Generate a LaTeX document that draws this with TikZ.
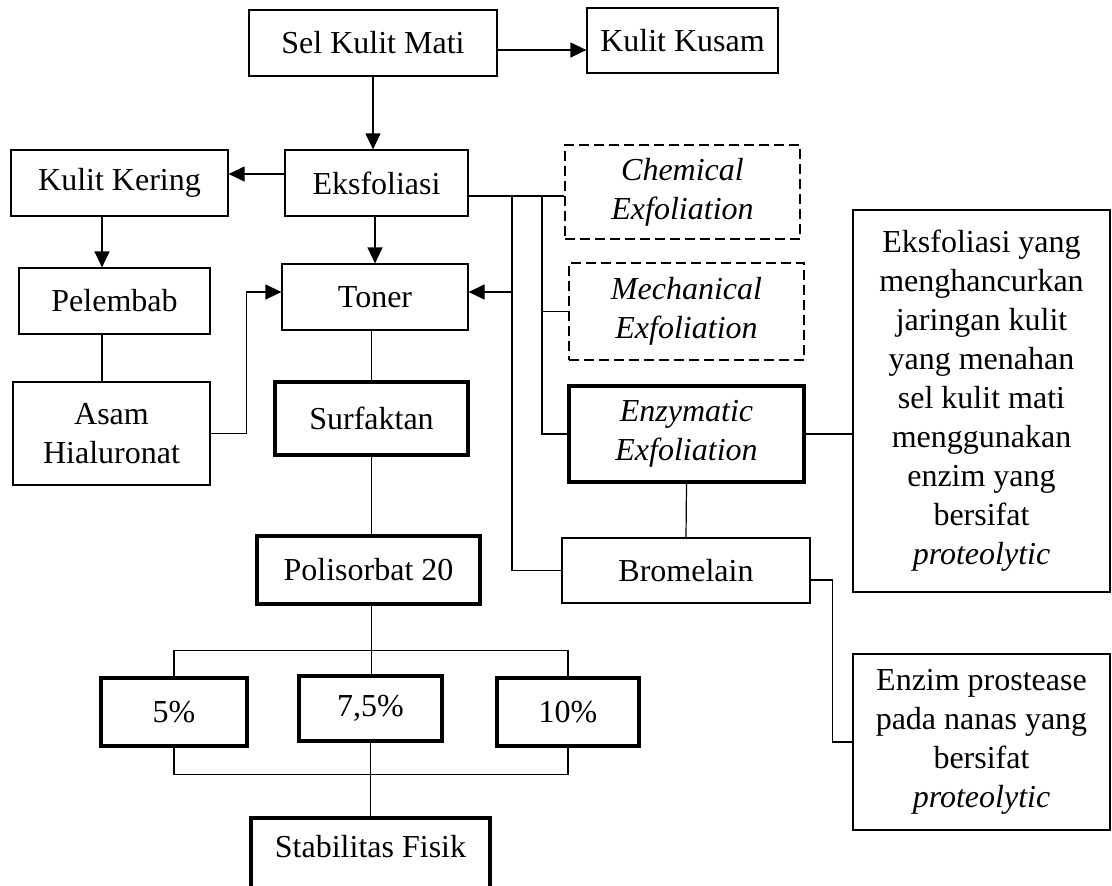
\documentclass[tikz,border=0pt]{standalone}
\usepackage{fontspec}
\setmainfont{Liberation Serif}
\usetikzlibrary{arrows.meta}

\begin{document}
\begin{tikzpicture}[x=0.5pt, y=-0.5pt, line width=0.6pt,
    >={Triangle[length=8pt,width=7.5pt]},
    font=\fontsize{16}{19.5}\selectfont,
    box/.style={draw, align=center, inner sep=0pt},
    boldbox/.style={box, line width=1.8pt},
    dashbox/.style={box, line width=1.1pt, dash pattern=on 5pt off 2.5pt}]
    \clip (0,0) rectangle (1112,885);

    \node[box, minimum width=124pt, minimum height=33pt] (sel) at (373,43) {Sel Kulit Mati};
    \node[box, minimum width=95.5pt, minimum height=32.5pt] (kusam) at (682.5,40.5) {Kulit Kusam};
    \node[box, minimum width=108.5pt, minimum height=33pt] (kering) at (119.5,183) {Kulit Kering};
    \node[box, minimum width=91.5pt, minimum height=33pt] (eksf) at (376.5,183) {Eksfoliasi};
    \node[dashbox, minimum width=117.5pt, minimum height=47pt] (chem) at (682.5,192) {\textit{Chemical}\\ \textit{Exfoliation}};
    \node[box, minimum width=95.5pt, minimum height=33pt] (pel) at (114.5,301) {Pelembab};
    \node[box, minimum width=93pt, minimum height=33pt] (toner) at (375,297) {Toner};
    \node[dashbox, minimum width=117.5pt, minimum height=48.5pt] (mech) at (686.5,311.5) {\textit{Mechanical}\\ \textit{Exfoliation}};
    \node[box, minimum width=98.5pt, minimum height=51.5pt] (asam) at (111.5,433.5) {Asam\\ Hialuronat};
    \node[boldbox, minimum width=96.5pt, minimum height=36.5pt] (surf) at (371.5,418.5) {Surfaktan};
    \node[boldbox, minimum width=117.5pt, minimum height=48pt] (enz) at (686.5,434) {\textit{Enzymatic}\\ \textit{Exfoliation}};
    \node[box, minimum width=128.5pt, minimum height=191pt] (ket) at (981.5,401) {Eksfoliasi yang\\ menghancurkan\\ jaringan kulit\\ yang menahan\\ sel kulit mati\\ menggunakan\\ enzim yang\\ bersifat\\ \textit{proteolytic}};
    \node[box, minimum width=124pt, minimum height=32.5pt] (brom) at (686,570.5) {Bromelain};
    \node[boldbox, minimum width=111.5pt, minimum height=34pt] (poli) at (368.5,570) {Polisorbat 20};
    \node[boldbox, minimum width=73pt, minimum height=34pt] (p5) at (174,712) {5\%};
    \node[boldbox, minimum width=71.5pt, minimum height=32.5pt] (p75) at (370.5,708.5) {7,5\%};
    \node[boldbox, minimum width=71pt, minimum height=34pt] (p10) at (568,712) {10\%};
    \node[box, minimum width=128.5pt, minimum height=88pt] (enzim) at (981.5,742) {Enzim prostease\\ pada nanas yang\\ bersifat\\ \textit{proteolytic}};
    \node[boldbox, anchor=north, minimum width=119.5pt, inner ysep=9pt, text height=11pt, text depth=40pt] (stab) at (370.5,816) {Stabilitas Fisik};

    \coordinate (j1) at (512,196);
    \coordinate (j2) at (542,196);

    \draw[->] ([yshift=-3.5pt]sel.east) -- ([yshift=-3.5pt]sel.east -| kusam.west);
    \draw[->] (sel.south) -- (sel.south |- eksf.north);
    \draw[->] ([yshift=4.5pt]eksf.west) -- ([yshift=4.5pt]eksf.west -| kering.east);
    \draw[->] (eksf.south -| toner.north) -- (toner.north);
    \draw[->] ([xshift=-6.25pt]pel.north |- kering.south) -- ([xshift=-6.25pt]pel.north);
    \draw ([xshift=-4.75pt]asam.north) -- ([xshift=-4.75pt]asam.north |- pel.south);
    \draw[->] (asam.east) -| ([xshift=-17.5pt,yshift=2.5pt]toner.west) -- ([yshift=2.5pt]toner.west);

    % cabang eksfoliasi
    \draw ([yshift=-6.5pt]eksf.east) -- ([yshift=-6.5pt]eksf.east -| chem.west);
    \draw (j2 |- mech.west) -- (mech.west);
    \draw (j2) |- (enz.west);
    \draw (j1) |- (brom.west);
    \draw[->] ([yshift=2.5pt]toner.east -| j1) -- ([yshift=2.5pt]toner.east);
    \draw (enz.east) -- (enz.east -| ket.west);
    \draw (enz.south) -- (brom.north);
    \draw ([yshift=-4.75pt]brom.east) -- ++(22,0) |- (enzim.west);

    % toner ke stabilitas
    \draw (toner.south -| surf.north) -- (surf.north);
    \draw (surf.south) -- (surf.south |- poli.north);
    \draw (surf.south |- poli.south) -- (surf.south |- p75.north);
    \draw (p5.north) -- ++(0,-26) -| (p10.north);
    \draw (p5.south) -- ++(0,27) -| (p10.south);
    \draw (p75.south) -- (stab.north);
\end{tikzpicture}
\end{document}
